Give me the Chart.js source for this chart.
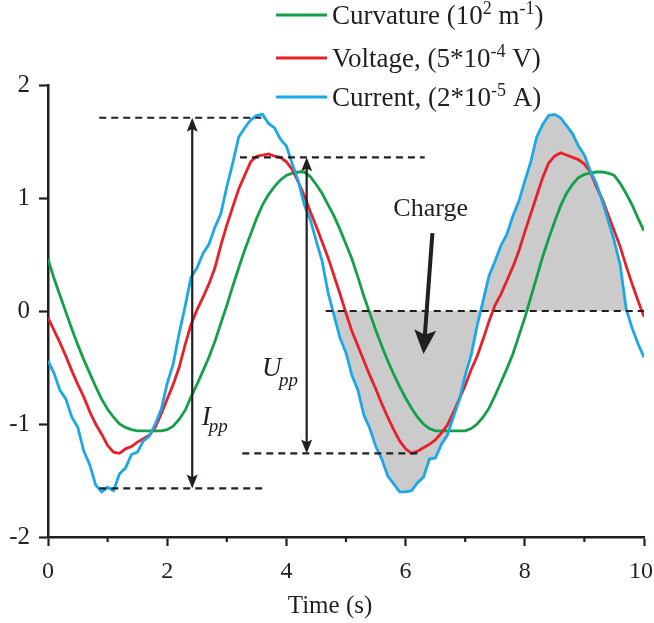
<!DOCTYPE html>
<html>
<head>
<meta charset="utf-8">
<script src="https://cdn.jsdelivr.net/npm/chart.js@4.4.1/dist/chart.umd.min.js"></script>
<style>
  html, body { margin: 0; padding: 0; background: #fff; }
  #wrap { width: 654px; height: 623px; position: relative; }
</style>
</head>
<body>
<div id="wrap"><canvas id="chart"></canvas></div>
<script>
// sample times (s)
const time = [
  0, 0.1, 0.2, 0.3, 0.4, 0.5, 0.6, 0.7, 0.8, 0.9,
  1, 1.1, 1.2, 1.3, 1.4, 1.5, 1.6, 1.7, 1.8, 1.9,
  2, 2.1, 2.2, 2.3, 2.4, 2.5, 2.6, 2.7, 2.8, 2.9,
  3, 3.1, 3.2, 3.3, 3.4, 3.5, 3.6, 3.7, 3.8, 3.9,
  4, 4.1, 4.2, 4.3, 4.4, 4.5, 4.6, 4.7, 4.8, 4.9,
  5, 5.1, 5.2, 5.3, 5.4, 5.5, 5.6, 5.7, 5.8, 5.9,
  6, 6.1, 6.2, 6.3, 6.4, 6.5, 6.6, 6.7, 6.8, 6.9,
  7, 7.1, 7.2, 7.3, 7.4, 7.5, 7.6, 7.7, 7.8, 7.9,
  8, 8.1, 8.2, 8.3, 8.4, 8.5, 8.6, 8.7, 8.8, 8.9,
  9, 9.1, 9.2, 9.3, 9.4, 9.5, 9.6, 9.7, 9.8, 9.9,
  10
];

// curvature, 10^2 1/m
const curvature = [
  0.46, 0.29, 0.14, -0.01, -0.16, -0.30, -0.43, -0.55, -0.67, -0.78,
  -0.87, -0.94, -1.00, -1.03, -1.05, -1.06, -1.06, -1.06, -1.06, -1.06,
  -1.05, -1.02, -0.96, -0.88, -0.76, -0.65, -0.53, -0.41, -0.27, -0.11,
  0.05, 0.22, 0.38, 0.54, 0.68, 0.82, 0.94, 1.03, 1.10, 1.16,
  1.20, 1.22, 1.23, 1.23, 1.19, 1.12, 1.04, 0.94, 0.84, 0.72,
  0.59, 0.46, 0.30, 0.13, -0.02, -0.17, -0.31, -0.44, -0.56, -0.67,
  -0.77, -0.86, -0.94, -1.00, -1.04, -1.06, -1.06, -1.06, -1.06, -1.06,
  -1.06, -1.04, -1.00, -0.94, -0.86, -0.75, -0.63, -0.51, -0.38, -0.22,
  -0.06, 0.12, 0.30, 0.48, 0.64, 0.79, 0.93, 1.04, 1.12, 1.18,
  1.21, 1.22, 1.23, 1.23, 1.22, 1.20, 1.13, 1.04, 0.94, 0.82,
  0.71
];

// voltage, 5*10^-4 V
const voltage = [
  -0.06, -0.17, -0.28, -0.40, -0.53, -0.65, -0.76, -0.89, -1.00, -1.09,
  -1.19, -1.25, -1.26, -1.22, -1.20, -1.16, -1.13, -1.10, -1.03, -0.91,
  -0.78, -0.65, -0.50, -0.30, -0.12, 0.01, 0.12, 0.24, 0.38, 0.58,
  0.76, 0.92, 1.08, 1.20, 1.32, 1.37, 1.38, 1.39, 1.37, 1.36,
  1.32, 1.25, 1.14, 1.02, 0.88, 0.75, 0.61, 0.47, 0.31, 0.15,
  -0.02, -0.18, -0.31, -0.44, -0.57, -0.69, -0.82, -0.94, -1.05, -1.15,
  -1.22, -1.26, -1.24, -1.21, -1.18, -1.14, -1.08, -1.01, -0.90, -0.78,
  -0.66, -0.52, -0.40, -0.25, -0.09, 0.05, 0.15, 0.27, 0.39, 0.53,
  0.70, 0.86, 1.02, 1.18, 1.31, 1.37, 1.40, 1.38, 1.36, 1.34,
  1.30, 1.23, 1.10, 0.99, 0.85, 0.71, 0.57, 0.40, 0.24, 0.09,
  -0.05
];

// current, 2*10^-5 A
const current = [
  -0.44, -0.55, -0.70, -0.78, -0.94, -1.03, -1.24, -1.36, -1.54, -1.60,
  -1.56, -1.59, -1.44, -1.39, -1.27, -1.25, -1.15, -1.11, -1.00, -0.87,
  -0.64, -0.47, -0.20, 0.04, 0.30, 0.38, 0.51, 0.59, 0.74, 0.86,
  1.10, 1.31, 1.54, 1.62, 1.69, 1.73, 1.74, 1.66, 1.62, 1.52,
  1.46, 1.30, 1.15, 0.94, 0.81, 0.62, 0.44, 0.16, -0.04, -0.24,
  -0.37, -0.57, -0.70, -0.92, -1.04, -1.20, -1.31, -1.46, -1.53, -1.60,
  -1.60, -1.59, -1.52, -1.47, -1.31, -1.30, -1.18, -1.10, -0.94, -0.79,
  -0.57, -0.39, -0.13, 0.09, 0.31, 0.44, 0.58, 0.68, 0.84, 0.97,
  1.15, 1.32, 1.54, 1.65, 1.73, 1.74, 1.71, 1.64, 1.57, 1.46,
  1.38, 1.24, 1.13, 0.97, 0.80, 0.62, 0.41, 0.02, -0.15, -0.29,
  -0.41
];

const xTicks = [0, 2, 4, 6, 8, 10];
const xMinorTicks = [1, 3, 5, 7, 9];
const yTicks = [-2, -1, 0, 1, 2];

// charge window (s) and peak-to-peak levels
const chargeWindow = [4.8, 9.7];
const currentPeaks = [1.71, -1.57];
const voltagePeaks = [1.36, -1.26];

const ink = '#231f20';
const serif = '"Liberation Serif", "Times New Roman", serif';
const colors = { curvature: '#13a04a', voltage: '#e8202a', current: '#1ba8e6' };

const pts = arr => arr.map((v, i) => ({ x: time[i], y: v }));
const chargePts = current.map((v, i) =>
  ({ x: time[i], y: (time[i] >= chargeWindow[0] - 1e-9 && time[i] <= chargeWindow[1] + 1e-9) ? v : null }));

const legendRows = [
  { color: colors.curvature, y: 15, parts: [['Curvature (10', 0], ['2', 1], [' m', 0], ['-1', 1], [')', 0]] },
  { color: colors.voltage, y: 58, parts: [['Voltage, (5*10', 0], ['-4', 1], [' V)', 0]] },
  { color: colors.current, y: 97, parts: [['Current, (2*10', 0], ['-5', 1], [' A)', 0]] }
];

// dashed guide lines: level, from, to (data units)
const guides = [
  { level: currentPeaks[0], from: 0.86, to: 3.58 },
  { level: currentPeaks[1], from: 0.86, to: 3.64 },
  { level: voltagePeaks[0], from: 3.22, to: 6.32 },
  { level: voltagePeaks[1], from: 3.26, to: 6.24 },
  { level: 0, from: 4.66, to: 10 }
];

function arrowHead(ctx, x1, y1, x2, y2, len, width) {
  const a = Math.atan2(y2 - y1, x2 - x1);
  ctx.beginPath();
  ctx.moveTo(x2, y2);
  ctx.lineTo(x2 - len * Math.cos(a) + width / 2 * Math.sin(a), y2 - len * Math.sin(a) - width / 2 * Math.cos(a));
  ctx.lineTo(x2 - len * 0.8 * Math.cos(a), y2 - len * 0.8 * Math.sin(a));
  ctx.lineTo(x2 - len * Math.cos(a) - width / 2 * Math.sin(a), y2 - len * Math.sin(a) + width / 2 * Math.cos(a));
  ctx.closePath();
  ctx.fill();
}

function richText(ctx, parts, x, baseline, size) {
  parts.forEach(([t, sup]) => {
    ctx.font = (sup ? Math.round(size * 0.66) : size) + 'px ' + serif;
    ctx.fillText(t, x, sup ? baseline - size * 0.38 : baseline);
    x += ctx.measureText(t).width;
  });
}

const overlay = {
  id: 'overlay',
  afterDatasetsDraw(chart) {
    const { ctx, chartArea, scales: { x, y } } = chart;
    const px = v => x.getPixelForValue(v);
    const py = v => y.getPixelForValue(v);
    ctx.save();
    ctx.strokeStyle = ink;
    ctx.fillStyle = ink;

    // guides
    ctx.lineWidth = 2.2;
    ctx.setLineDash([7, 5]);
    guides.forEach(g => {
      ctx.beginPath();
      ctx.moveTo(px(g.from), py(g.level));
      ctx.lineTo(px(g.to), py(g.level));
      ctx.stroke();
    });
    ctx.setLineDash([]);

    // peak-to-peak double arrows
    [[2.42, currentPeaks], [4.34, voltagePeaks]].forEach(([t, [hi, lo]]) => {
      const xx = px(t), y1 = py(hi), y2 = py(lo);
      ctx.lineWidth = 2.2;
      ctx.beginPath();
      ctx.moveTo(xx, y1 + 8);
      ctx.lineTo(xx, y2 - 8);
      ctx.stroke();
      arrowHead(ctx, xx, y2, xx, y1, 14, 11);
      arrowHead(ctx, xx, y1, xx, y2, 14, 11);
    });

    // charge pointer
    const cx1 = px(6.45), cy1 = py(0.69), cx2 = px(6.30), cy2 = py(-0.38);
    ctx.lineWidth = 4;
    ctx.beginPath();
    ctx.moveTo(cx1, cy1);
    ctx.lineTo(cx2 + (cx1 - cx2) * 0.12, cy2 + (cy1 - cy2) * 0.12);
    ctx.stroke();
    arrowHead(ctx, cx1, cy1, cx2, cy2, 24, 22);

    // labels
    ctx.textBaseline = 'alphabetic';
    ctx.textAlign = 'center';
    ctx.font = '26px ' + serif;
    ctx.fillText('Charge', px(6.42), 216);

    // axis title, centred a little left of the axis middle
    ctx.font = '25px ' + serif;
    ctx.fillText('Time (s)', 330, 613);

    ctx.textAlign = 'left';
    ctx.font = 'italic 27px ' + serif;
    ctx.fillText('U', px(3.59), 376);
    ctx.fillText('I', px(2.58), 425);
    ctx.font = 'italic 19px ' + serif;
    ctx.fillText('pp', px(3.59) + 17, 386);
    ctx.fillText('pp', px(2.58) + 7, 432);

    // minor ticks on the time axis
    ctx.lineWidth = 2.2;
    xMinorTicks.forEach(t => {
      ctx.beginPath();
      ctx.moveTo(px(t), chartArea.bottom);
      ctx.lineTo(px(t), chartArea.bottom + 5);
      ctx.stroke();
    });

    // legend
    legendRows.forEach(r => {
      ctx.strokeStyle = r.color;
      ctx.lineWidth = 2.8;
      ctx.beginPath();
      ctx.moveTo(276, r.y);
      ctx.lineTo(327, r.y);
      ctx.stroke();
      ctx.fillStyle = ink;
      richText(ctx, r.parts, 332, r.y + 9, 27);
    });
    ctx.restore();
  }
};

new Chart(document.getElementById('chart'), {
  type: 'line',
  data: {
    datasets: [
      { label: 'Current, (2*10⁻⁵ A)', data: pts(current), borderColor: colors.current, borderWidth: 2.8, order: 1 },
      { label: 'Voltage, (5*10⁻⁴ V)', data: pts(voltage), borderColor: colors.voltage, borderWidth: 2.8, order: 2 },
      { label: 'Curvature (10² m⁻¹)', data: pts(curvature), borderColor: colors.curvature, borderWidth: 2.8, order: 3 },
      { label: 'Charge', data: chargePts, borderWidth: 0, borderColor: 'rgba(0,0,0,0)',
        backgroundColor: '#cbcbcb', fill: { value: 0 }, spanGaps: false, order: 4 }
    ]
  },
  options: {
    responsive: true,
    maintainAspectRatio: false,
    animation: false,
    elements: { point: { radius: 0 }, line: { tension: 0 } },
    layout: { padding: { top: 85, right: 10, left: 0, bottom: 0 } },
    plugins: { legend: { display: false }, tooltip: { enabled: false } },
    scales: {
      x: {
        type: 'linear', min: 0, max: 10,
        afterBuildTicks: s => { s.ticks = xTicks.map(v => ({ value: v })); },
        afterFit: s => { s.height = 86; s.paddingLeft = 0; s.paddingRight = 0; },
        // trailing space keeps the last label inside the canvas edge
        ticks: { color: ink, font: { family: serif, size: 24 }, padding: 11, maxRotation: 0,
          callback: v => v === 10 ? '10 ' : String(v) },
        grid: { drawOnChartArea: false, drawTicks: true, tickLength: 9, tickWidth: 2.2, tickColor: ink },
        border: { color: ink, width: 2.5 }
      },
      y: {
        min: -2, max: 2,
        afterBuildTicks: s => { s.ticks = yTicks.map(v => ({ value: v })); },
        afterFit: s => { s.width = 48; s.paddingTop = 0; s.paddingBottom = 0; },
        ticks: { color: ink, font: { family: serif, size: 25 }, padding: 9 },
        grid: { drawOnChartArea: false, drawTicks: true, tickLength: 9, tickWidth: 2.2, tickColor: ink },
        border: { color: ink, width: 2.5 }
      }
    }
  },
  plugins: [overlay]
});
</script>
</body>
</html>
